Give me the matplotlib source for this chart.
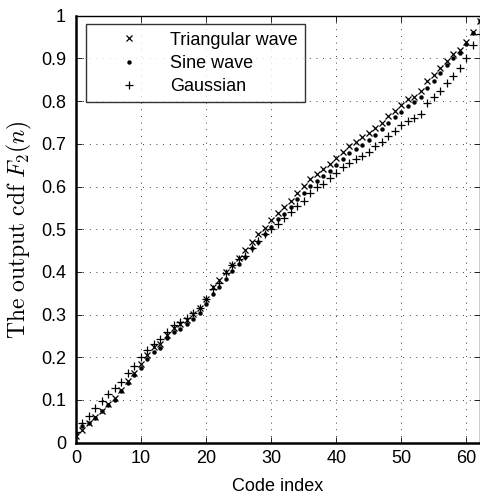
import numpy as np
import matplotlib
matplotlib.use("Agg")
import matplotlib.pyplot as plt
from matplotlib.ticker import FixedLocator

plt.rcParams['font.family'] = ['Liberation Sans', 'DejaVu Sans']
plt.rcParams['mathtext.fontset'] = 'cm'

# code index 0..62
code_index = list(range(63))

# output cdf values
triangular = [0.016, 0.030, 0.047, 0.059, 0.075, 0.090, 0.104, 0.124, 0.145, 0.164,
              0.184, 0.205, 0.223, 0.230, 0.252, 0.268, 0.278, 0.287, 0.302, 0.315,
              0.336, 0.365, 0.380, 0.399, 0.416, 0.433, 0.452, 0.469, 0.488, 0.504,
              0.521, 0.537, 0.551, 0.567, 0.586, 0.601, 0.617, 0.629, 0.641, 0.653,
              0.668, 0.681, 0.696, 0.705, 0.715, 0.725, 0.738, 0.750, 0.766, 0.778,
              0.791, 0.804, 0.810, 0.824, 0.847, 0.861, 0.878, 0.895, 0.910, 0.921,
              0.939, 0.962, 0.988]

sine = [0.021, 0.039, 0.045, 0.057, 0.073, 0.088, 0.100, 0.120, 0.139, 0.158,
        0.176, 0.196, 0.212, 0.222, 0.244, 0.259, 0.267, 0.278, 0.290, 0.303,
        0.324, 0.348, 0.365, 0.384, 0.402, 0.419, 0.436, 0.455, 0.471, 0.488,
        0.505, 0.523, 0.536, 0.552, 0.570, 0.585, 0.601, 0.614, 0.625, 0.636,
        0.650, 0.664, 0.678, 0.688, 0.697, 0.709, 0.721, 0.734, 0.748, 0.762,
        0.775, 0.789, 0.799, 0.810, 0.832, 0.848, 0.867, 0.885, 0.900, 0.913,
        0.935, 0.959, 0.987]

gaussian = [0.026, 0.047, 0.062, 0.082, 0.098, 0.113, 0.129, 0.143, 0.162, 0.180,
            0.200, 0.217, 0.230, 0.242, 0.260, 0.276, 0.283, 0.291, 0.303, 0.316,
            0.336, 0.359, 0.373, 0.397, 0.415, 0.430, 0.437, 0.455, 0.472, 0.489,
            0.500, 0.512, 0.526, 0.540, 0.554, 0.565, 0.585, 0.598, 0.607, 0.619,
            0.632, 0.646, 0.656, 0.664, 0.671, 0.682, 0.695, 0.705, 0.718, 0.730,
            0.744, 0.753, 0.760, 0.770, 0.795, 0.810, 0.824, 0.843, 0.859, 0.877,
            0.901, 0.932, 0.958]

x_ticks = [0, 10, 20, 30, 40, 50, 60]
y_ticks = [0, 0.1, 0.2, 0.3, 0.4, 0.5, 0.6, 0.7, 0.8, 0.9, 1]
y_tick_labels = ['0', '0.1', '0.2', '0.3', '0.4', '0.5', '0.6', '0.7', '0.8', '0.9', '1']

fig = plt.figure(figsize=(4.8, 4.94), dpi=100)
ax = fig.add_axes([0.158, 0.104, 0.841, 0.864])

ax.plot(code_index, triangular, linestyle='none', marker='x', ms=4, mew=0.9,
        color='black', label='Triangular wave')
ax.plot(code_index, sine, linestyle='none', marker='o', ms=3.2, mew=0,
        color='black', label='Sine wave')
ax.plot(code_index, gaussian, linestyle='none', marker='+', ms=6, mew=0.9,
        color='black', label='Gaussian')

ax.set_xlim(0, 62)
ax.set_ylim(0, 1)
ax.xaxis.set_major_locator(FixedLocator(x_ticks))
ax.set_yticks(y_ticks)
ax.set_yticklabels(y_tick_labels)
ax.tick_params(direction='in', top=True, right=True, labelsize=13, length=4, width=0.6)
ax.tick_params(axis='y', pad=7)
ax.tick_params(axis='x', pad=5)
ax.grid(True, color='black', linestyle=(0, (1, 7)), linewidth=0.6)

for side in ['left', 'bottom']:
    ax.spines[side].set_linewidth(1.8)
for side in ['top', 'right']:
    ax.spines[side].set_linewidth(1.0)

ax.set_xlabel('Code index', fontsize=13, labelpad=8)
ax.set_ylabel(r'$\mathrm{The\ output\ cdf}\ F_2(n)$', fontsize=17, labelpad=5)

leg = ax.legend(loc='upper left', bbox_to_anchor=(0.025, 0.98), fontsize=13,
                frameon=True, fancybox=False, handlelength=4.0, handletextpad=0.25,
                borderpad=0.4, labelspacing=0.35, borderaxespad=0)
leg.get_frame().set_edgecolor('black')
leg.get_frame().set_linewidth(1.0)

fig.savefig('out.png', dpi=100)
